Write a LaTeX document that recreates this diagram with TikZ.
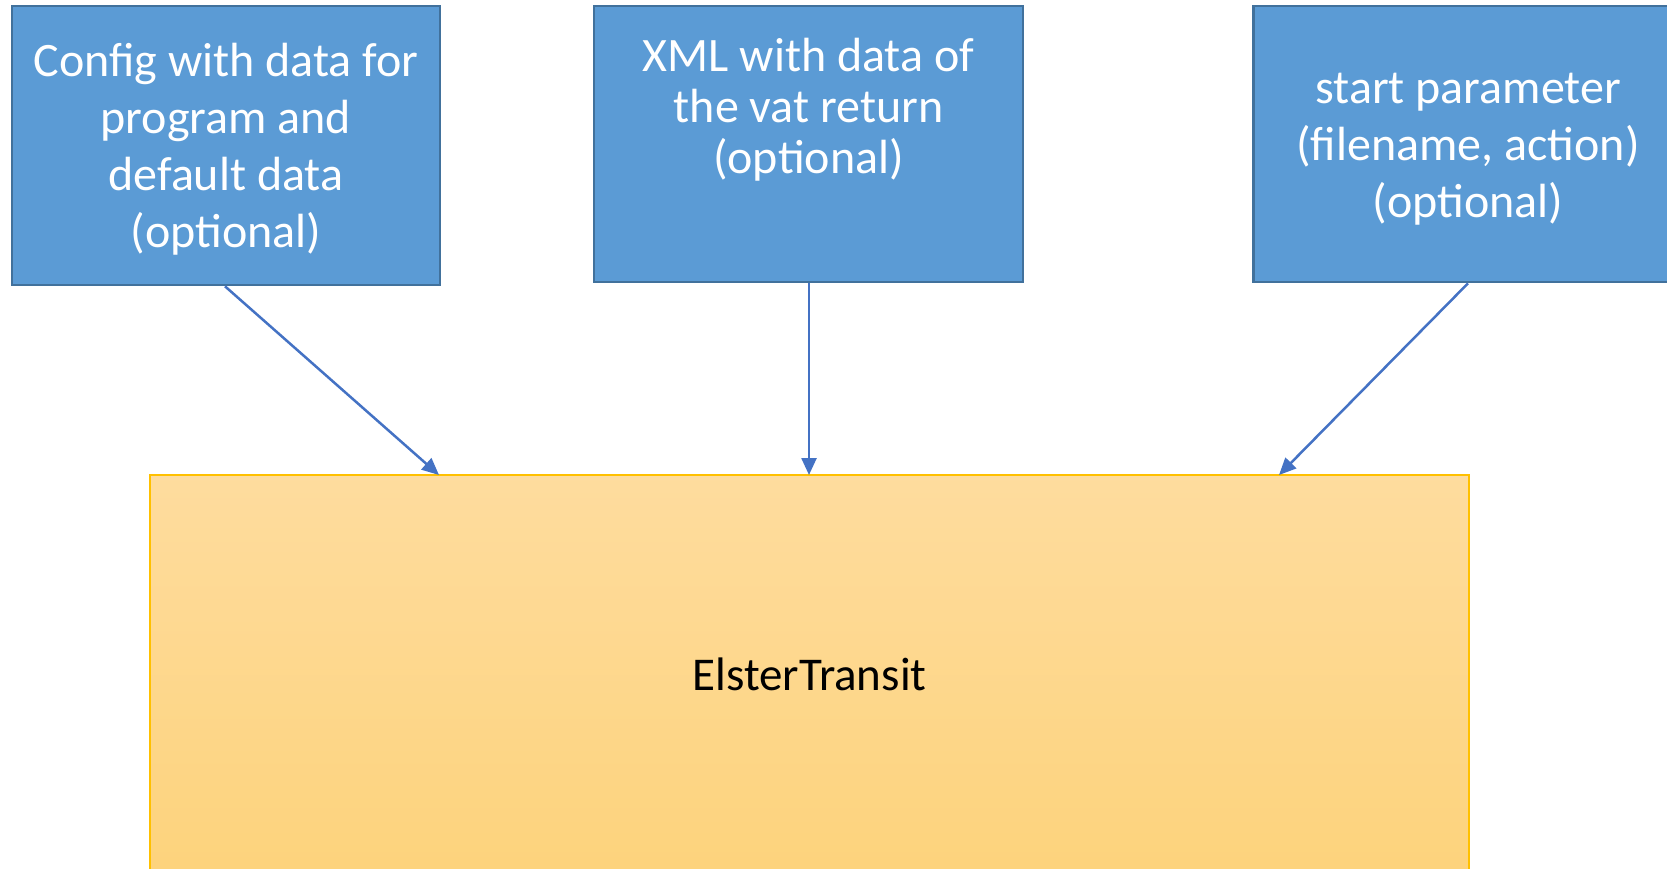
\documentclass[tikz,border=0pt]{standalone}
\usepackage{fontspec}
\setmainfont{Carlito}
\usetikzlibrary{arrows.meta}
\definecolor{boxblue}{HTML}{5B9BD5}
\definecolor{boxborder}{HTML}{41719C}
\definecolor{arrowblue}{HTML}{4472C4}
\definecolor{ytop}{HTML}{FEDC9E}
\definecolor{ybot}{HTML}{FDD37C}
\definecolor{yborder}{HTML}{FFC000}
\tikzset{
  inbox/.style={draw=boxborder, line width=2.6pt, fill=boxblue, rectangle, inner sep=0pt},
  intext/.style={text=white, align=center, font=\fontsize{48}{57}\selectfont, inner sep=0pt},
  mainbox/.style={draw=yborder, line width=1.6pt, top color=ytop, bottom color=ybot, rectangle, inner sep=0pt},
  flow/.style={draw=arrowblue, line width=2.5pt, -{Triangle[length=17pt,width=15pt]}}
}
\begin{document}
\begin{tikzpicture}[x=1pt,y=-1pt]
\useasboundingbox (0,0) rectangle (1667,869);
\clip (0,0) rectangle (1667,869);
\fill[white] (0,0) rectangle (1667,869);
% input boxes
\node[inbox, minimum width=428pt, minimum height=279pt] (cfg) at (226,145.5) {};
\node[inbox, minimum width=429pt, minimum height=276pt] (xml) at (808.5,144) {};
\node[inbox, minimum width=429pt, minimum height=276pt] (par) at (1468,144) {};
% main box
\node[mainbox, minimum width=1319pt, minimum height=399pt] (et) at (809.5,674.5) {};
% texts
\node[intext] (cfgtext) at (226,149.5) {Config with data for\\program and\\default data\\(optional)};
\node[intext, font=\fontsize{48}{51}\selectfont] (xmltext) at (808.5,109.5) {XML with data of\\the vat return\\(optional)};
\node[intext] (partext) at (1468,149.5) {start parameter\\(filename, action)\\(optional)};
\node[text=black, inner sep=0pt, font=\fontsize{47}{56}\selectfont] (ettext) at (809.5,674) {ElsterTransit};
% arrow targets on the top edge of the main box
\coordinate (tL) at (439,475);
\coordinate (tM) at (809,475);
\coordinate (tR) at (1279,475);
\draw[flow] (cfg.south -| 225,0) -- (tL);
\draw[flow] (xml.south -| tM) -- (tM);
\draw[flow] (par.south) -- (tR);
\end{tikzpicture}
\end{document}
